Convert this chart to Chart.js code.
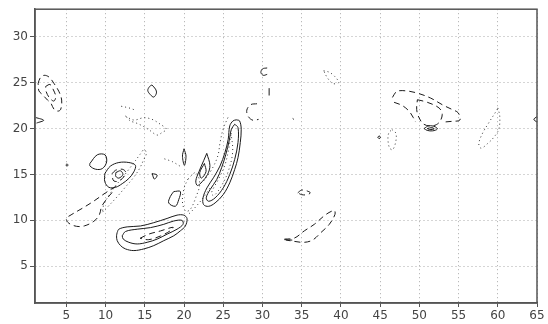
<!DOCTYPE html>
<html>
<head>
<meta charset="utf-8">
<script src="https://cdn.jsdelivr.net/npm/chart.js@4.4.1/dist/chart.umd.min.js"></script>
<style>
  body { margin: 0; background: #fff; }
  canvas { display: block; }
</style>
</head>
<body>
<canvas id="contour-chart" width="548" height="324"></canvas>
<script>
'use strict';

// ******** AXIS TICKS **************
let xTicks = [5, 10, 15, 20, 25, 30, 35, 40, 45, 50, 55, 60, 65];
let yTicks = [5, 10, 15, 20, 25, 30];

// ******** SOLID CONTOURS [x, y] **************
let edgeLeft = [[1.1, 21.2], [2.1, 20.9], [1.2, 20.6]];
let loopTop16 = [[15.9, 24.75], [16.36, 24.3], [16.48, 23.86], [16.14, 23.43], [15.72, 23.68], [15.38, 24.14], [15.6, 24.57], [15.9, 24.75]];
let blobLeft = [[8.0, 16.2], [8.94, 17.14], [9.92, 17.14], [10.13, 16.36], [9.58, 15.64], [8.73, 15.57], [8.0, 15.93], [8.0, 16.2]];
let dotLeft = [[4.95, 16.05], [5.1, 16.15], [5.2, 16.0], [5.05, 15.9], [4.95, 16.05]];
let loop12Outer = [[9.9, 15.1], [10.6, 15.9], [11.69, 16.3], [12.97, 16.3], [13.8, 16.0], [13.6, 15.29], [12.97, 14.57], [12.12, 14.0], [11.27, 13.6], [10.42, 13.6], [9.9, 14.21], [9.9, 15.1]];
let loop12Core = [[11.3, 15.2], [11.9, 15.4], [12.2, 15.0], [11.7, 14.6], [11.3, 14.8], [11.3, 15.2]];
let triSmall = [[15.93, 15.1], [16.57, 14.93], [16.22, 14.5], [15.93, 15.1]];
let vertLoop20 = [[20.0, 17.8], [20.25, 17.0], [20.05, 16.0], [19.8, 17.0], [20.0, 17.8]];
let loop19 = [[18.69, 13.14], [19.53, 13.14], [19.32, 12.25], [18.9, 11.54], [18.05, 11.89], [18.26, 12.61], [18.69, 13.14]];
let bananaOuter = [[11.48, 8.68], [11.69, 9.04], [12.75, 9.29], [14.45, 9.39], [16.14, 9.75], [17.84, 10.21], [19.11, 10.57], [19.96, 10.57], [20.38, 10.21], [20.17, 9.39], [19.53, 8.86], [18.69, 8.32], [17.42, 7.79], [16.14, 7.25], [14.87, 6.89], [13.6, 6.71], [12.54, 6.89], [11.91, 7.25], [11.48, 7.79], [11.4, 8.32], [11.48, 8.68]];
let bananaInner = [[12.12, 8.32], [12.54, 8.79], [14.03, 9.04], [15.72, 9.21], [17.42, 9.57], [18.69, 9.93], [19.75, 10.0], [19.87, 9.57], [19.11, 9.04], [17.84, 8.5], [16.57, 7.96], [15.3, 7.61], [14.03, 7.43], [12.97, 7.61], [12.25, 7.96], [12.12, 8.32]];
let ridgeOuter = [[26.67, 20.95], [27.08, 20.84], [27.29, 19.93], [27.17, 18.47], [26.88, 16.82], [26.46, 15.55], [25.83, 14.09], [25.0, 12.81], [23.96, 11.9], [23.13, 11.53], [22.5, 11.71], [22.42, 12.45], [22.92, 13.54], [23.75, 14.64], [24.58, 15.91], [25.21, 17.37], [25.63, 18.83], [25.83, 20.29], [26.25, 20.84], [26.67, 20.95]];
let ridgeInner = [[26.46, 20.47], [26.88, 20.11], [26.88, 18.47], [26.46, 16.64], [25.83, 15.0], [25.0, 13.54], [23.96, 12.45], [23.13, 12.08], [22.83, 12.45], [23.33, 13.36], [24.17, 14.45], [24.79, 15.73], [25.33, 17.19], [25.75, 18.65], [26.04, 19.93], [26.46, 20.47]];
let ridgeLeftOuter = [[22.9, 17.3], [23.3, 16.0], [23.0, 15.0], [22.3, 14.2], [21.7, 13.8], [21.5, 14.3], [21.9, 15.3], [22.5, 16.5], [22.9, 17.3]];
let ridgeLeftInner = [[22.6, 16.2], [22.8, 15.3], [22.2, 14.6], [22.0, 15.2], [22.6, 16.2]];
let cTop30 = [[30.6, 26.6], [30.0, 26.5], [29.8, 26.1], [30.1, 25.8], [30.6, 25.9]];
let tick31 = [[30.85, 24.4], [30.85, 23.6]];
let dot34 = [[33.85, 21.1], [34.0, 21.0]];
let ovalOuter = [[50.6, 20.0], [51.2, 20.3], [52.0, 20.2], [52.3, 19.95], [51.7, 19.75], [51.0, 19.8], [50.6, 20.0]];
let ovalInner = [[51.0, 20.0], [51.6, 20.1], [51.9, 19.95], [51.3, 19.9], [51.0, 20.0]];
let edgeRight = [[65.0, 21.3], [64.6, 21.0], [65.0, 20.7]];
let diamond45 = [[44.7, 19.05], [44.87, 19.2], [45.05, 19.05], [44.87, 18.9], [44.7, 19.05]];
let stroke33 = [[32.8, 7.9], [33.8, 7.85]];

// ******** DASHED CONTOURS **************
let topLeftOuter = [[1.4, 24.9], [1.65, 25.5], [2.16, 25.8], [2.8, 25.6], [3.43, 24.9], [4.07, 24.0], [4.4, 23.1], [4.28, 22.1], [3.94, 21.9], [3.43, 22.1], [3.0, 22.8], [2.6, 23.1], [1.95, 23.7], [1.5, 24.1], [1.4, 24.9]];
let topLeftInner = [[2.37, 24.6], [2.92, 24.8], [3.35, 24.2], [3.64, 23.5], [3.43, 23.0], [3.0, 23.2], [2.58, 23.7], [2.37, 24.2], [2.37, 24.6]];
let loop12Dash = [[10.85, 15.1], [11.27, 15.46], [12.12, 15.57], [12.54, 15.29], [12.33, 14.75], [11.69, 14.29], [11.06, 14.29], [10.85, 14.75], [10.85, 15.1]];
let longDashLeft = [[11.3, 13.7], [10.0, 13.0], [8.5, 12.1], [7.0, 11.3], [5.6, 10.6], [5.0, 10.2], [5.3, 9.7], [6.3, 9.35], [7.3, 9.4], [8.5, 9.9], [9.2, 10.6], [9.5, 11.5], [10.2, 12.4], [11.0, 13.2]];
let bananaDash = [[14.4, 8.05], [15.5, 8.5], [17.0, 8.85], [18.6, 9.25], [18.3, 8.9], [17.0, 8.3], [15.5, 7.9], [14.4, 8.05]];
let arc29 = [[29.3, 22.7], [28.5, 22.6], [28.0, 22.0], [28.2, 21.3], [28.8, 20.9], [29.5, 21.0]];
let rightOuterTop = [[46.57, 23.39], [47.12, 24.04], [48.26, 24.11], [49.75, 23.86], [51.44, 23.32], [52.92, 22.6], [54.19, 22.07], [54.96, 21.71], [55.17, 20.93], [54.19, 20.79], [53.14, 20.71]];
let rightOuterLow = [[46.78, 22.86], [47.84, 22.5], [48.69, 21.89], [49.24, 21.18], [49.53, 20.71]];
let rightInner = [[49.75, 23.14], [51.02, 22.86], [52.5, 22.25], [52.92, 21.54], [52.5, 20.64], [51.65, 20.29], [50.59, 20.46], [49.96, 21.18], [49.66, 22.07], [49.75, 23.14]];
let smallDash35 = [[34.5, 13.0], [35.0, 13.3], [35.7, 13.2], [36.1, 13.0], [35.7, 12.8], [35.0, 12.8], [34.5, 13.0]];
let longDashLow = [[32.8, 7.96], [34.07, 8.07], [35.34, 8.86], [36.61, 9.57], [38.09, 10.64], [39.15, 11.07], [39.24, 10.64], [38.52, 9.57], [37.46, 8.68], [36.4, 7.86], [35.34, 7.61], [34.07, 7.71], [33.0, 7.86]];

// ******** DOTTED CONTOURS **************
let dotLine13 = [[11.99, 22.43], [12.97, 22.25], [13.81, 22.0]];
let dotLoop15 = [[12.54, 21.36], [13.6, 20.93], [14.87, 21.18], [15.93, 21.0], [16.99, 20.46], [17.75, 19.93], [17.2, 19.57], [16.56, 19.29], [15.72, 19.75], [14.87, 20.21], [13.81, 20.64], [13.18, 20.82], [12.54, 21.36]];
let dotDiagonal = [[9.6, 10.9], [10.3, 11.5], [11.5, 12.6], [12.5, 13.6], [13.5, 14.6], [14.3, 15.6], [14.8, 16.5], [15.2, 17.3], [14.9, 17.7], [14.4, 17.2], [13.8, 16.5], [13.0, 15.6], [12.2, 14.7], [11.3, 13.8], [10.5, 12.8], [9.8, 11.8], [9.6, 10.9]];
let dotLine18 = [[17.5, 16.7], [18.5, 16.4], [19.5, 15.9]];
let dotRidgeInner = [[26.0, 19.5], [26.2, 17.5], [25.7, 15.5], [24.8, 13.8], [23.8, 12.7], [23.5, 13.0], [24.4, 14.5], [25.2, 16.0], [25.7, 17.8], [26.0, 19.5]];
let dotRidgeLeft = [[25.6, 21.2], [25.0, 20.0], [24.6, 18.5], [24.3, 17.0], [23.5, 15.5], [22.5, 14.3]];
let dotLoop21 = [[20.5, 14.5], [21.5, 15.2], [22.0, 14.0], [21.5, 12.5], [20.8, 11.2], [20.2, 11.0], [19.8, 12.0], [20.0, 13.5], [20.5, 14.5]];
let dotTail22 = [[23.3, 13.5], [22.3, 12.3], [21.2, 11.2], [20.5, 10.6]];
let dotCluster38 = [[37.8, 26.3], [38.6, 26.1], [39.4, 25.5], [39.7, 25.0], [39.0, 24.9], [38.3, 25.5], [37.8, 26.3]];
let dotLoop46 = [[46.5, 19.9], [47.0, 19.5], [47.0, 18.6], [46.6, 17.7], [46.2, 17.9], [46.0, 18.8], [46.1, 19.5], [46.5, 19.9]];
let dotLoop59 = [[60.0, 22.25], [60.25, 21.36], [60.13, 19.93], [59.49, 19.04], [58.64, 18.32], [57.88, 17.86], [57.58, 18.32], [58.0, 19.39], [58.86, 20.64], [59.92, 22.07], [60.0, 22.25]];

let solidLines = [edgeLeft, loopTop16, blobLeft, dotLeft, loop12Outer, loop12Core, triSmall, vertLoop20, loop19, bananaOuter, bananaInner, ridgeOuter, ridgeInner, ridgeLeftOuter, ridgeLeftInner, cTop30, tick31, dot34, ovalOuter, ovalInner, edgeRight, diamond45, stroke33];
let dashedLines = [topLeftOuter, topLeftInner, loop12Dash, longDashLeft, bananaDash, arc29, rightOuterTop, rightOuterLow, rightInner, smallDash35, longDashLow];
let dottedLines = [dotLine13, dotLoop15, dotDiagonal, dotLine18, dotRidgeInner, dotRidgeLeft, dotLoop21, dotTail22, dotCluster38, dotLoop46, dotLoop59];

// ********* BUILD DATASETS *************
let allDatasets = [];

function addLines(lines, dash, color) {
  for (let i = 0; i < lines.length; i++) {
    allDatasets.push({
      data: lines[i].map(p => ({ x: p[0], y: p[1] })),
      showLine: true,
      borderColor: color,
      borderWidth: 1,
      borderDash: dash,
      pointRadius: 0,
      tension: 0.35
    });
  }
}

addLines(dottedLines, [1, 3], '#333');
addLines(dashedLines, [6, 4], '#1a1a1a');
addLines(solidLines, [], '#1a1a1a');

let tickFont = { family: 'DejaVu Sans', size: 12 };

// frame round the plot area
let frame = {
  id: 'frame',
  afterDraw(chart) {
    let a = chart.chartArea;
    let ctx = chart.ctx;
    ctx.save();
    ctx.strokeStyle = '#555';
    ctx.lineWidth = 1.5;
    ctx.strokeRect(a.left, a.top, a.right - a.left, a.bottom - a.top);
    ctx.restore();
  }
};

let canvasElem = document.getElementById('contour-chart');

new Chart(canvasElem, {
  type: 'scatter',
  data: { datasets: allDatasets },
  options: {
    responsive: false,
    animation: false,
    plugins: { legend: { display: false }, tooltip: { enabled: false } },
    layout: { padding: { top: 5, right: 11, left: 0, bottom: 0 } },
    scales: {
      x: {
        type: 'linear',
        min: 1,
        max: 65,
        afterBuildTicks: s => { s.ticks = xTicks.map(v => ({ value: v })); },
        afterFit: s => { s.height = 21; },
        ticks: { font: tickFont, color: '#444', padding: 2, maxRotation: 0, autoSkip: false },
        grid: { color: '#aaa', tickColor: '#555', tickLength: 4, tickBorderDash: [] },
        border: { color: '#555', width: 1.5, dash: [1, 3] }
      },
      y: {
        type: 'linear',
        min: 1,
        max: 33,
        afterBuildTicks: s => { s.ticks = yTicks.map(v => ({ value: v })); },
        afterFit: s => { s.width = 35; },
        ticks: { font: tickFont, color: '#444', padding: 2, autoSkip: false },
        grid: { color: '#aaa', tickColor: '#555', tickLength: 5, tickBorderDash: [] },
        border: { color: '#555', width: 1.5, dash: [1, 3] }
      }
    }
  },
  plugins: [frame]
});
</script>
</body>
</html>
